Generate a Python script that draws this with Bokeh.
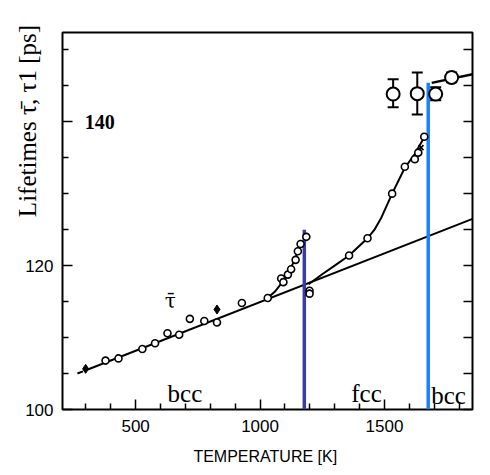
from bokeh.plotting import figure
from bokeh.models import Range1d, LinearAxis, FixedTicker, Label
from bokeh.embed import file_html
from bokeh.resources import INLINE

# ---- data ----
# straight bcc reference line (dashed start, then solid)
dash_T = [266, 292]
dash_tau = [105.0, 105.35]
line_T = [300, 1854]
line_tau = [105.46, 126.5]

# small open points (mean lifetime)
open_T = [379, 431, 527, 578, 628, 675, 718, 776, 827, 927, 1031, 1085, 1094,
          1112, 1125, 1143, 1152, 1163, 1186, 1199, 1199, 1358, 1432, 1531,
          1582, 1622, 1636, 1660]
open_tau = [106.8, 107.1, 108.4, 109.2, 110.6, 110.4, 112.6, 112.3, 112.1,
            114.8, 115.5, 118.2, 117.7, 118.75, 119.5, 120.8, 122.0, 123.0,
            124.0, 116.5, 116.1, 121.4, 123.8, 130.0, 133.75, 134.8, 135.7,
            137.9]
# filled points
fill_T = [299, 827]
fill_tau = [105.65, 113.9]
# crosses
x_T = [1647]
x_tau = [136.4]

# fitted curves
bcc_curve_T = [1031, 1060, 1085, 1105, 1125, 1140, 1152, 1170, 1186]
bcc_curve_tau = [115.5, 116.4, 117.5, 118.5, 119.8, 120.8, 122.1, 123.0, 124.2]
fcc_curve_T = [1195, 1250, 1300, 1358, 1432, 1460, 1488, 1531, 1582, 1622, 1663]
fcc_curve_tau = [117.4, 118.8, 120.0, 121.4, 123.8, 125.0, 126.7, 130.0, 133.6,
                 135.5, 138.0]

# large circles with error bars (tau_1)
big_T = [1535, 1632, 1706, 1770]
big_tau = [143.85, 143.9, 143.85, 146.15]
big_lo = [142.0, 141.0, 143.0, 145.5]
big_hi = [145.9, 146.85, 144.8, 146.85]
high_T = [1690, 1854]
high_tau = [145.4, 146.6]

# phase transitions
trans_T = [1178, 1676]
trans_top = [125.0, 145.4]
trans_colors = ["#3b3ba0", "#1a80ff"]

x_major = [500, 1000, 1500]
x_minor = [300, 400, 600, 700, 800, 900, 1100, 1200, 1300, 1400, 1600, 1700, 1800]
y_major = [100, 120, 140]
y_minor = [105, 110, 115, 125, 130, 135, 145, 150]

p = figure(width=482, height=472, output_backend="svg", toolbar_location=None,
           x_range=Range1d(206, 1854), y_range=Range1d(100, 152.4),
           min_border_left=62, min_border_top=32, min_border_right=10,
           min_border_bottom=63, x_axis_type=None, y_axis_type=None)
p.grid.visible = False
p.outline_line_color = "black"
p.outline_line_width = 2
p.background_fill_color = "white"
p.border_fill_color = "white"

def style_axis(ax):
    ax.axis_line_color = None
    ax.major_tick_in = 10
    ax.major_tick_out = 0
    ax.minor_tick_in = 6
    ax.minor_tick_out = 0
    ax.major_tick_line_width = 1.5
    ax.minor_tick_line_width = 1.5
    ax.major_tick_line_color = "black"
    ax.minor_tick_line_color = "black"
    ax.major_label_text_font = "Liberation Sans"
    ax.major_label_text_font_size = "17px"
    ax.major_label_text_color = "black"
    ax.major_label_standoff = 10

xax = LinearAxis(ticker=FixedTicker(ticks=x_major, minor_ticks=x_minor),
                 axis_label="TEMPERATURE  [K]")
style_axis(xax)
xax.axis_label_text_font = "Liberation Sans"
xax.axis_label_text_font_size = "16px"
xax.axis_label_text_font_style = "normal"
xax.axis_label_text_color = "black"
xax.axis_label_standoff = 13
p.add_layout(xax, "below")

yax = LinearAxis(ticker=FixedTicker(ticks=y_major, minor_ticks=y_minor),
                 major_label_overrides={140: ""},
                 axis_label="\u2003" * 8 + "Lifetimes \u03c4\u0304, \u03c41 [ps]")
style_axis(yax)
yax.major_label_standoff = 9
yax.axis_label_text_font = "Liberation Serif"
yax.axis_label_text_font_size = "25px"
yax.axis_label_text_font_style = "normal"
yax.axis_label_text_color = "black"
yax.axis_label_standoff = -19
p.add_layout(yax, "left")

right_ticks = y_major + y_minor
rax = LinearAxis(ticker=FixedTicker(ticks=right_ticks, minor_ticks=[]),
                 major_label_overrides={t: "" for t in right_ticks})
style_axis(rax)
rax.major_tick_in = 9
rax.major_label_standoff = 0
p.add_layout(rax, "right")

# lines
p.line(dash_T, dash_tau, line_color="black", line_width=2, line_dash="6 4")
p.line(line_T, line_tau, line_color="black", line_width=2)
p.line(bcc_curve_T, bcc_curve_tau, line_color="black", line_width=2)
p.line(fcc_curve_T, fcc_curve_tau, line_color="black", line_width=2)
p.line(high_T, high_tau, line_color="black", line_width=2.5)

# transitions
p.segment(x0=trans_T, y0=[100, 100], x1=trans_T, y1=trans_top,
          line_color=trans_colors, line_width=3.5)

# points
p.scatter(open_T, open_tau, marker="circle", size=7, fill_color="white",
          line_color="black", line_width=1.6)
p.scatter(fill_T, fill_tau, marker="diamond", size=9, fill_color="black",
          line_color="black")
p.scatter(x_T, x_tau, marker="x", size=7, line_color="black", line_width=1.6)

# error bars
p.segment(x0=big_T, y0=big_lo, x1=big_T, y1=big_hi, line_color="black",
          line_width=2)
p.scatter(big_T, big_lo, marker="dash", size=11, line_color="black", line_width=2)
p.scatter(big_T, big_hi, marker="dash", size=11, line_color="black", line_width=2)
p.scatter(big_T, big_tau, marker="circle", size=13, fill_color="white",
          line_color="black", line_width=2)

serif = "Liberation Serif"
p.add_layout(Label(x=295, y=140, text="140", text_font=serif,
                   text_font_size="20px", text_font_style="bold",
                   text_color="black", text_baseline="middle",
                   text_align="left"))
for tx, ty, tt in [(698, 102.2, "bcc"), (1428, 102.2, "fcc"), (1758, 101.9, "bcc")]:
    p.add_layout(Label(x=tx, y=ty, text=tt, text_font=serif,
                       text_font_size="25px", text_align="center",
                       text_color="black", text_baseline="alphabetic"))
p.add_layout(Label(x=639, y=115.1, text="\u03c4\u0304", text_font="DejaVu Serif",
                   text_font_size="20px", text_align="center",
                   text_color="black", text_baseline="middle"))

open("out.html", "w").write(file_html(p, INLINE))
